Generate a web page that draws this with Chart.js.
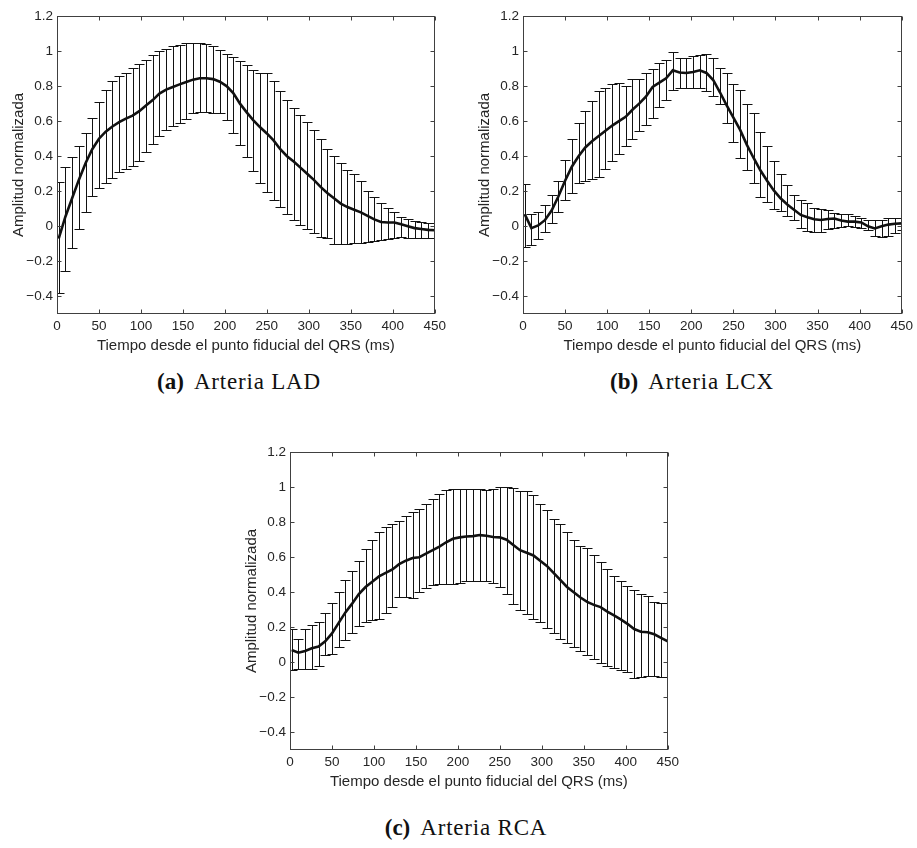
<!DOCTYPE html>
<html>
<head>
<meta charset="utf-8">
<script src="https://cdn.jsdelivr.net/npm/chart.js@4.4.1/dist/chart.umd.min.js"></script>
<style>
    body { margin: 0; background: #fff; width: 917px; height: 848px; position: relative; overflow: hidden; }
    .panel { position: absolute; height: 360px; }
    .caption { position: absolute; font-family: "Liberation Serif", "Times New Roman", serif; font-size: 23px; letter-spacing: 0.8px; color: #111; transform: translate(-50%, -50%); white-space: nowrap; }
    .caption b { margin-right: 10px; letter-spacing: 0; }
</style>
</head>
<body>
<div class="panel" style="left:0; top:0; width:450px;"><canvas id="chartLAD"></canvas></div>
<div class="panel" style="left:466px; top:0; width:451px;"><canvas id="chartLCX"></canvas></div>
<div class="panel" style="left:233px; top:436px; width:450px;"><canvas id="chartRCA"></canvas></div>
<div class="caption" style="left:239px; top:382px;"><b>(a)</b>Arteria LAD</div>
<div class="caption" style="left:692px; top:382px;"><b>(b)</b>Arteria LCX</div>
<div class="caption" style="left:466px; top:828px;"><b>(c)</b>Arteria RCA</div>
<script>
// tiempo de cada muestra (ms)
const times = [2, 10, 18, 26, 34, 42, 50, 58, 66, 74, 82, 90, 98, 106, 114, 122, 130, 138, 146, 154,
    162, 170, 178, 186, 194, 202, 210, 218, 226, 234, 242, 250, 258, 266, 274, 282, 290, 298, 306, 314,
    322, 330, 338, 346, 354, 362, 370, 378, 386, 394, 402, 410, 418, 426, 434, 442, 450];

const xTicks = [0, 50, 100, 150, 200, 250, 300, 350, 400, 450];
const yTicks = [-0.4, -0.2, 0, 0.2, 0.4, 0.6, 0.8, 1, 1.2];
const yTickLabels = ['−0.4', '−0.2', '0', '0.2', '0.4', '0.6', '0.8', '1', '1.2'];

// Arteria LAD
const ladMean = [-0.07, 0.055, 0.16, 0.265, 0.36, 0.44, 0.5, 0.54, 0.57, 0.595,
    0.615, 0.632, 0.657, 0.69, 0.72, 0.757, 0.78, 0.795, 0.81, 0.824,
    0.837, 0.845, 0.845, 0.84, 0.825, 0.8, 0.76, 0.7, 0.65, 0.605,
    0.565, 0.53, 0.49, 0.44, 0.4, 0.37, 0.335, 0.3, 0.265, 0.225,
    0.19, 0.16, 0.13, 0.11, 0.095, 0.08, 0.06, 0.04, 0.025, 0.022,
    0.022, 0.012, 0, -0.01, -0.015, -0.02, -0.022];
const ladUpper = [0.254, 0.336, 0.397, 0.457, 0.53, 0.619, 0.71, 0.78, 0.83, 0.856,
    0.877, 0.906, 0.929, 0.951, 0.976, 1.0, 1.014, 1.027, 1.037, 1.046,
    1.045, 1.045, 1.04, 1.03, 1.005, 0.985, 0.967, 0.944, 0.919, 0.891,
    0.872, 0.872, 0.83, 0.773, 0.72, 0.678, 0.638, 0.596, 0.549, 0.501,
    0.44, 0.4, 0.363, 0.321, 0.298, 0.258, 0.203, 0.165, 0.131, 0.106,
    0.084, 0.055, 0.04, 0.032, 0.027, 0.021, 0.02];
const ladLower = [-0.378, -0.256, -0.125, -0.017, 0.084, 0.171, 0.218, 0.25, 0.274, 0.308,
    0.33, 0.347, 0.37, 0.423, 0.469, 0.516, 0.549, 0.575, 0.59, 0.612,
    0.644, 0.653, 0.653, 0.648, 0.644, 0.606, 0.535, 0.463, 0.393, 0.317,
    0.245, 0.198, 0.15, 0.112, 0.07, 0.036, 0.008, -0.017, -0.04, -0.059,
    -0.068, -0.1, -0.1, -0.1, -0.097, -0.093, -0.087, -0.082, -0.078, -0.07,
    -0.065, -0.063, -0.065, -0.068, -0.068, -0.068, -0.068];

// Arteria LCX
const lcxMean = [0.07, -0.01, 0.005, 0.035, 0.09, 0.17, 0.26, 0.34, 0.4, 0.45,
    0.485, 0.515, 0.545, 0.575, 0.6, 0.625, 0.665, 0.7, 0.74, 0.795,
    0.82, 0.845, 0.89, 0.878, 0.875, 0.88, 0.89, 0.875, 0.835, 0.765,
    0.69, 0.62, 0.55, 0.465, 0.39, 0.32, 0.26, 0.205, 0.16, 0.125,
    0.095, 0.065, 0.052, 0.04, 0.036, 0.042, 0.045, 0.033, 0.027, 0.027,
    0.022, 0, -0.012, 0, 0.01, 0.015, 0.017];
const lcxUpper = [0.24, 0.068, 0.08, 0.12, 0.18, 0.26, 0.38, 0.5, 0.59, 0.66,
    0.715, 0.775, 0.79, 0.81, 0.82, 0.8, 0.838, 0.843, 0.877, 0.9,
    0.93, 0.95, 0.995, 0.96, 0.963, 0.97, 0.98, 0.986, 0.963, 0.906,
    0.876, 0.811, 0.777, 0.7, 0.645, 0.54, 0.46, 0.37, 0.3, 0.235,
    0.18, 0.15, 0.135, 0.103, 0.097, 0.093, 0.075, 0.068, 0.068, 0.057,
    0.05, 0.038, 0.038, 0.036, 0.045, 0.046, 0.046];
const lcxLower = [-0.116, -0.106, -0.07, -0.03, 0.02, 0.08, 0.15, 0.188, 0.25, 0.26,
    0.27, 0.28, 0.33, 0.375, 0.41, 0.46, 0.5, 0.545, 0.58, 0.62,
    0.68, 0.72, 0.78, 0.79, 0.79, 0.79, 0.79, 0.775, 0.745, 0.7,
    0.59, 0.48, 0.39, 0.32, 0.25, 0.17, 0.14, 0.1, 0.088, 0.06,
    0.035, -0.012, -0.028, -0.03, -0.03, -0.016, -0.008, -0.003, 0, -0.002,
    -0.01, -0.02, -0.055, -0.06, -0.055, -0.04, -0.02];

// Arteria RCA
const rcaMean = [0.07, 0.055, 0.065, 0.08, 0.09, 0.12, 0.165, 0.225, 0.285, 0.335,
    0.39, 0.43, 0.46, 0.49, 0.51, 0.53, 0.56, 0.58, 0.595, 0.6,
    0.62, 0.64, 0.66, 0.685, 0.705, 0.713, 0.718, 0.72, 0.726, 0.722,
    0.715, 0.713, 0.7, 0.67, 0.64, 0.625, 0.61, 0.58, 0.55, 0.51,
    0.47, 0.43, 0.4, 0.37, 0.345, 0.328, 0.315, 0.29, 0.268, 0.245,
    0.22, 0.19, 0.175, 0.172, 0.16, 0.14, 0.12];
const rcaUpper = [0.19, 0.135, 0.19, 0.215, 0.23, 0.28, 0.34, 0.4, 0.47, 0.52,
    0.58, 0.645, 0.7, 0.745, 0.77, 0.787, 0.805, 0.835, 0.855, 0.875,
    0.903, 0.933, 0.96, 0.982, 0.99, 0.991, 0.991, 0.988, 0.987, 0.986,
    0.99, 0.998, 1.003, 0.995, 0.98, 0.975, 0.955, 0.905, 0.87, 0.82,
    0.79, 0.745, 0.7, 0.665, 0.652, 0.61, 0.575, 0.53, 0.495, 0.465,
    0.438, 0.41, 0.39, 0.378, 0.345, 0.337, 0.34];
const rcaLower = [-0.042, -0.038, -0.04, -0.04, -0.023, 0.04, 0.047, 0.09, 0.128, 0.165,
    0.205, 0.232, 0.243, 0.246, 0.28, 0.318, 0.375, 0.375, 0.366, 0.404,
    0.423, 0.44, 0.445, 0.445, 0.447, 0.451, 0.464, 0.464, 0.464, 0.462,
    0.45, 0.43, 0.39, 0.335, 0.3, 0.275, 0.245, 0.233, 0.195, 0.17,
    0.135, 0.11, 0.09, 0.063, 0.044, 0.019, -0.004, -0.019, -0.032, -0.042,
    -0.057, -0.087, -0.085, -0.08, -0.08, -0.085, -0.085];

const textColor = '#262626';
const axisColor = '#404040';
const sansFont = 'Liberation Sans, Arial, sans-serif';

// caja de ejes estilo MATLAB con marcas hacia dentro
const framePlugin = {
    id: 'frame',
    afterDatasetsDraw(chart) {
        const { ctx, chartArea: a, scales: { x, y } } = chart;
        const l = Math.round(a.left) + 0.5, r = Math.round(a.right) - 0.5;
        const t = Math.round(a.top) + 0.5, b = Math.round(a.bottom) - 0.5;
        ctx.save();
        ctx.strokeStyle = axisColor;
        ctx.lineWidth = 1;
        ctx.strokeRect(l, t, r - l, b - t);
        ctx.beginPath();
        xTicks.forEach(v => {
            const px = Math.round(x.getPixelForValue(v)) + 0.5;
            ctx.moveTo(px, b); ctx.lineTo(px, b - 4);
            ctx.moveTo(px, t); ctx.lineTo(px, t + 4);
        });
        yTicks.forEach(v => {
            const py = Math.round(y.getPixelForValue(v)) + 0.5;
            ctx.moveTo(l, py); ctx.lineTo(l + 4, py);
            ctx.moveTo(r, py); ctx.lineTo(r - 4, py);
        });
        ctx.stroke();
        ctx.restore();
    }
};

function makeErrorBars(upper, lower) {
    return {
        id: 'errorBars',
        beforeDatasetsDraw(chart) {
            const { ctx, chartArea: a, scales: { x, y } } = chart;
            ctx.save();
            ctx.beginPath();
            ctx.rect(a.left, a.top, a.width, a.height);
            ctx.clip();
            ctx.strokeStyle = '#111';
            ctx.lineWidth = 1;
            ctx.beginPath();
            times.forEach((tm, i) => {
                const px = Math.round(x.getPixelForValue(tm)) + 0.5;
                const pu = Math.round(y.getPixelForValue(upper[i])) + 0.5;
                const pl = Math.round(y.getPixelForValue(lower[i])) + 0.5;
                ctx.moveTo(px, pu); ctx.lineTo(px, pl);
                ctx.moveTo(px - 5, pu); ctx.lineTo(px + 5, pu);
                ctx.moveTo(px - 5, pl); ctx.lineTo(px + 5, pl);
            });
            ctx.stroke();
            ctx.restore();
        }
    };
}

function makeChart(id, mean, upper, lower) {
    const ctx = document.getElementById(id).getContext('2d');
    return new Chart(ctx, {
        type: 'line',
        data: {
            datasets: [{
                data: times.map((t, i) => ({ x: t, y: mean[i] })),
                borderColor: '#111',
                borderWidth: 2.6,
                pointRadius: 0,
                tension: 0,
                fill: false
            }]
        },
        options: {
            responsive: true,
            maintainAspectRatio: false,
            animation: false,
            layout: { padding: { top: 16, right: 14, left: 0, bottom: 0 } },
            plugins: { legend: { display: false }, tooltip: { enabled: false } },
            scales: {
                x: {
                    type: 'linear',
                    min: 0,
                    max: 450,
                    afterBuildTicks: s => { s.ticks = xTicks.map(v => ({ value: v })); },
                    afterFit: s => { s.height = 46; },
                    grid: { display: false, drawTicks: false },
                    border: { display: false },
                    ticks: { padding: 4, color: textColor, maxRotation: 0, autoSkip: false, font: { family: sansFont, size: 13.5 } },
                    title: {
                        display: true,
                        text: 'Tiempo desde el punto fiducial del QRS (ms)',
                        color: textColor,
                        font: { family: sansFont, size: 15 },
                        padding: { top: 0, bottom: 5 }
                    }
                },
                y: {
                    type: 'linear',
                    min: -0.5,
                    max: 1.2,
                    afterBuildTicks: s => { s.ticks = yTicks.map(v => ({ value: v })); },
                    afterFit: s => { s.width = 57; },
                    grid: { display: false, drawTicks: false },
                    border: { display: false },
                    ticks: {
                        padding: 4,
                        color: textColor,
                        autoSkip: false,
                        font: { family: sansFont, size: 13.5 },
                        callback: (value, index) => yTickLabels[index]
                    },
                    title: {
                        display: true,
                        text: 'Amplitud normalizada',
                        color: textColor,
                        font: { family: sansFont, size: 15 },
                        padding: { top: 10, bottom: 0 }
                    }
                }
            }
        },
        plugins: [makeErrorBars(upper, lower), framePlugin]
    });
}

makeChart('chartLAD', ladMean, ladUpper, ladLower);
makeChart('chartLCX', lcxMean, lcxUpper, lcxLower);
makeChart('chartRCA', rcaMean, rcaUpper, rcaLower);
</script>
</body>
</html>
